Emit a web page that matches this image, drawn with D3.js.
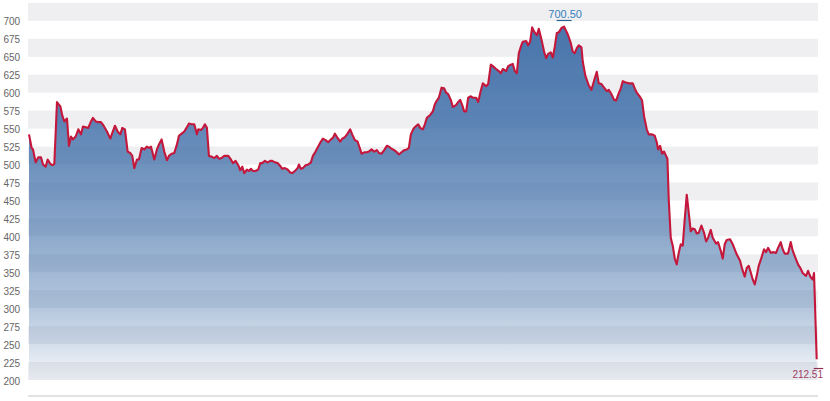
<!DOCTYPE html>
<html>
<head>
<meta charset="utf-8">
<script src="https://cdn.jsdelivr.net/npm/d3@7/dist/d3.min.js"></script>
<style>
html,body{margin:0;padding:0;background:#fff;}
svg{display:block;font-family:"Liberation Sans",Arial,sans-serif;}
</style>
</head>
<body>
<svg id="chart" width="830" height="401"></svg>
<script>
// ---- data ----
const days = [0,4,6,10,14,18,21,25,28,32,35,38,42,47,50,53,57,60,63,66,70,74,78,81,85,89,93,96,100,104,108,112,117,122,125,129,133,137,140,144,148,152,155,158,162,165,169,173,177,180,183,188,192,195,199,203,207,210,214,218,222,225,229,233,237,240,244,248,252,254,258,261,264,267,270,274,278,282,285,289,293,
299,303,306,310,314,317,320,323,327,330,333,336,340,344,347,350,354,358,362,365,369,373,377,380,384,388,392,395,399,403,405,408,411,415,419,423,426,430,434,438,441,445,449,453,456,459,463,467,470,474,478,482,485,489,493,497,499,503,507,510,514,518,522,525,529,533,537,540,544,548,552,555,559,563,567,570,573,577,580,584,
587,591,594,597,602,606,609,612,615,619,623,626,629,633,636,641,644,647,650,653,656,659,663,666,671,674,678,681,686,689,693,696,701,705,708,711,716,719,723,726,729,732,735,738,741,746,749,752,755,758,762,765,769,773,776,779,783,786,789,792,795,799,803,806,809,813,816,819,822,825,829,831,835,837,840,844,848,852,855,859,863,867,870,874,878,881,884,888,
891,896,900,906,909,912,917,920,923,927,930,935,939,942,944,947,950,953,956,958,960,963,966,969,972,975,978,981,984,987,990,993,996,999,1002,1005,1009,1013,1016,1019,1023,1026,1031,1034,1038,1041,1044,1047,1052,1056,1059,1062,1067,1070,1074,1077,1080,1083,1086,1089,1092,1095,1099,1103,1106,1109,1113,1116,1121,1124,1128,1131,1134,1139,1143,1146,1151,1154,1158,1161,1166,1169,1173,1176,1178,1182];
const prices = [542,523,521,503,510,510,500,497,507,501,499,501,587,581,568,560,564,526,539,535,539,549,542,553,552,551,560,565,560,559,559,554,546,536,544,554,546,542,551,549,518,516,512,495,507,507,523,521,525,523,525,507,521,528,535,518,506,512,515,516,528,540,543,546,552,557,556,556,542,549,548,551,556,551,512,511,509,512,508,509,512,
512,507,502,505,499,492,497,488,493,491,494,491,491,493,502,502,505,503,505,505,503,502,498,494,495,493,489,488,491,495,500,494,495,499,500,503,512,518,525,532,536,534,531,535,537,543,537,532,536,538,543,549,542,534,532,521,515,517,517,518,521,518,520,516,515,520,526,525,522,520,517,514,517,520,521,523,542,550,553,556,
551,549,556,565,569,574,584,589,593,607,606,600,598,590,580,583,587,590,583,574,574,593,595,593,593,587,603,613,609,612,639,637,633,630,627,633,630,637,639,640,630,627,655,664,671,672,666,671,691,685,680,689,674,657,648,654,656,649,664,683,684,690,692,686,680,669,657,655,662,666,663,643,623,618,610,604,617,629,613,612,607,602,604,598,590,589,597,606,
616,614,613,613,606,600,594,589,567,549,542,542,540,531,521,526,515,518,512,508,451,398,387,369,361,377,389,387,424,458,433,407,411,410,404,405,415,405,393,398,409,398,390,392,380,369,389,395,396,389,382,375,366,355,344,356,359,350,340,333,345,359,370,382,378,384,377,378,377,384,392,382,376,376,392,380,368,361,355,349,345,352,343,340,349,229];
const yTicks = [200,225,250,275,300,325,350,375,400,425,450,475,500,525,550,575,600,625,650,675,700];
const highValue = 700.50, highDay = 803;
const lowValue = 212.51, lowDay = 1182;
const yMin = 200, yMax = 725;

// ---- chart ----
const svg = d3.select("#chart");
const plotLeft = 28, plotRight = 818;
const x = d3.scaleLinear().domain([0, d3.max(days)]).range([29, 816.7]);
const y = d3.scaleLinear().domain([yMin, yMax]).range([380, 2.9]);

const data = days.map((d, i) => ({d, v: prices[i]}));

// alternating bands
const bandG = svg.append("g");
for (let i = 0; i < yTicks.length; i += 2) {
  const top = yMax - (i / 2) * 50;
  bandG.append("rect")
    .attr("x", plotLeft).attr("width", plotRight - plotLeft)
    .attr("y", y(top)).attr("height", y(top - 25) - y(top))
    .attr("fill", "#efeff2");
}

// y tick labels
svg.append("g").selectAll("text").data(yTicks).join("text")
  .attr("x", 3.5).attr("y", d => y(d) + 4.5)
  .attr("font-size", 10).attr("fill", "#666")
  .text(d => d);

// bottom axis line
svg.append("line").attr("x1", plotLeft).attr("x2", plotRight)
  .attr("y1", 396).attr("y2", 396)
  .attr("stroke", "#e2e2e2").attr("stroke-width", 2);

// gradient
const defs = svg.append("defs");
const grad = defs.append("linearGradient").attr("id", "areaGrad")
  .attr("gradientUnits", "userSpaceOnUse")
  .attr("x1", 0).attr("x2", 0).attr("y1", y(yMax)).attr("y2", y(yMin));
[[0, 0.97], [0.3, 0.85], [0.55, 0.66], [0.8, 0.4], [0.92, 0.2], [1, 0.04]].forEach(([o, a]) => {
  grad.append("stop").attr("offset", o).attr("stop-color", "#3f6ea8").attr("stop-opacity", a);
});

svg.append("path").datum(data)
  .attr("fill", "url(#areaGrad)")
  .attr("d", d3.area().x(p => x(p.d)).y0(y(yMin)).y1(p => y(p.v)));

svg.append("path").datum(data)
  .attr("fill", "none").attr("stroke", "#c4173c").attr("stroke-width", 2.1)
  .attr("stroke-linejoin", "round")
  .attr("d", d3.line().x(p => x(p.d)).y(p => y(p.v)));

// high marker
svg.append("line").attr("x1", x(highDay) - 7.5).attr("x2", x(highDay) + 7.5)
  .attr("y1", y(highValue)).attr("y2", y(highValue))
  .attr("stroke", "#2b5f8e").attr("stroke-width", 1.2);
svg.append("text").attr("x", x(highDay) + 1).attr("y", y(highValue) - 2.5)
  .attr("text-anchor", "middle").attr("font-size", 11).attr("fill", "#3580bb")
  .text(highValue.toFixed(2));

// low marker
svg.append("line").attr("x1", x(lowDay) - 3).attr("x2", x(lowDay) + 6.5)
  .attr("y1", y(lowValue) - 2.5).attr("y2", y(lowValue) - 2.5)
  .attr("stroke", "#8e2f4e").attr("stroke-width", 1.2);
svg.append("text").attr("x", 823).attr("y", y(lowValue) + 7)
  .attr("text-anchor", "end").attr("font-size", 10).attr("fill", "#a0405f")
  .text(lowValue.toFixed(2));
</script>
</body>
</html>
